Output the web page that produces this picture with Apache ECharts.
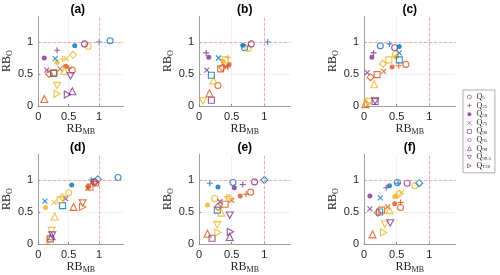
<!DOCTYPE html>
<html><head><meta charset="utf-8">
<script src="https://cdn.jsdelivr.net/npm/echarts@6/dist/echarts.min.js"></script>
<style>html,body{margin:0;padding:0;background:#fff}#c{width:500px;height:275px}</style>
</head><body><div id="c"></div>
<script>
// quantile names (legend) and subscripts
const QNAMES = ['Q5','Q25','Q50','Q75','Q90','Q95','Q99','Q99.5','QT20'];
const QSUBS  = ['5','25','50','75','90','95','99','99.5','T20'];
const PANELS = ['(a)','(b)','(c)','(d)','(e)','(f)'];
const X_TICKS = [0, 0.5, 1];
const Y_TICKS = [0, 0.5, 1];

// [RB_MB, RB_O] per quantile (order of QNAMES); null = not visible
const a_blue   = [[1.18,1.02],[1.0,1.0],[0.6,0.94],[0.28,0.74],[0.25,0.51],null,null,null,null];
const a_red    = [[0.56,0.56],[0.5,0.59],[0.45,0.62],[0.36,0.58],[0.26,0.52],[0.18,0.50],[0.1,0.11],null,null];
const a_yellow = [[0.82,0.93],[0.40,0.73],[0.31,0.68],[0.46,0.74],null,[0.57,0.80],[0.43,0.55],[0.31,0.32],[0.31,0.19]];
const a_purple = [[0.76,0.97],[0.31,0.87],[0.1,0.75],[0.14,0.56],null,null,[0.56,0.23],[0.53,0.47],[0.48,0.18]];

const b_blue   = [[0.70,0.91],[1.05,1.0],[0.67,0.95],[0.30,0.75],[0.19,0.48],null,null,null,null];
const b_red    = [[0.29,0.32],[0.44,0.61],[0.46,0.65],[0.41,0.62],[0.33,0.58],[0.36,0.60],[0.16,0.20],null,null];
const b_yellow = [[0.75,0.90],[0.44,0.76],[0.37,0.70],null,[0.40,0.72],null,[0.22,0.40],[0.06,0.08],null];
const b_purple = [[0.80,0.97],[0.11,0.83],[0.15,0.76],[0.12,0.56],[0.19,0.09],null,null,null,null];

const c_blue   = [[0.25,0.94],[0.39,0.97],[0.54,0.93],[0.54,0.83],[0.54,0.72],null,null,null,null];
const c_red    = [[0.64,0.65],[0.53,0.63],[0.43,0.61],[0.30,0.54],[0.20,0.49],[0.10,0.45],[0.02,0.03],null,null];
const c_yellow = [[0.48,0.80],null,[0.49,0.77],null,[0.38,0.72],[0.29,0.66],[0.155,0.34],[0.08,0.07],[0.05,0.04]];
const c_purple = [[0.47,0.91],[0.145,0.83],[0.12,0.76],[0.05,0.52],[0.17,0.07],null,null,[0.17,0.08],null];

const d_blue   = [[1.31,1.04],[0.87,1.0],[0.55,0.92],[0.11,0.67],[0.40,0.60],[0.98,1.01],null,null,null];
const d_red    = [[0.95,0.95],[0.90,0.95],[0.83,0.90],[0.81,0.87],[0.85,0.89],[0.93,0.96],[0.58,0.58],[0.73,0.64],[0.73,0.58]];
const d_yellow = [[0.50,0.80],null,[0.12,0.57],[0.26,0.65],[0.36,0.69],[0.40,0.73],[0.27,0.43],[0.22,0.21],[0.19,0.05]];
const d_purple = [[0.92,0.97],[0.90,0.98],null,[0.45,0.71],[0.20,0.08],null,[0.22,0.12],[0.23,0.14],null];

const e_blue   = [[0.52,0.96],[0.165,0.95],[0.29,0.89],null,[0.28,0.53],[1.0,1.0],null,null,null];
const e_red    = [[0.79,0.81],[0.72,0.78],[0.63,0.75],[0.50,0.68],[0.40,0.62],[0.29,0.58],[0.13,0.16],null,null];
const e_yellow = [[0.24,0.71],[0.43,0.74],[0.13,0.61],null,null,[0.46,0.72],[0.34,0.49],[0.28,0.30],[0.29,0.18]];
const e_purple = [[0.85,0.97],[0.67,0.93],[0.54,0.88],[0.32,0.66],[0.20,0.09],null,[0.47,0.11],[0.47,0.45],[0.48,0.19]];

const f_blue   = [[0.51,0.96],[0.52,0.95],[0.39,0.91],[0.25,0.72],[0.24,0.50],[0.845,0.95],null,null,null];
const f_red    = [[0.56,0.57],[0.56,0.65],[0.47,0.63],[0.36,0.58],[0.27,0.53],[0.21,0.49],[0.13,0.15],null,null];
const f_yellow = [[0.78,0.91],[0.51,0.75],[0.47,0.74],[0.575,0.81],null,[0.53,0.78],[0.39,0.53],[0.32,0.31],[0.30,0.18]];
const f_purple = [[0.66,0.95],[0.34,0.88],[0.09,0.75],[0.09,0.55],null,null,null,[0.40,0.33],null];

const PANEL_DATA = [
  [a_blue,a_red,a_yellow,a_purple],
  [b_blue,b_red,b_yellow,b_purple],
  [c_blue,c_red,c_yellow,c_purple],
  [d_blue,d_red,d_yellow,d_purple],
  [e_blue,e_red,e_yellow,e_purple],
  [f_blue,f_red,f_yellow,f_purple]
];

const COLORS = ['#0072BD','#D95319','#EDB120','#7E2F8E'];
// marker style per quantile
const MARKERS = [
  {symbol:'circle', size:6, filled:false},
  {symbol:'path://M5,0L5,10M0,5L10,5', size:6, filled:false},
  {symbol:'circle', size:5, filled:true},
  {symbol:'path://M0,0L10,10M10,0L0,10', size:5, filled:false},
  {symbol:'rect', size:6, filled:false},
  {symbol:'diamond', size:7, filled:false},
  {symbol:'triangle', size:7, filled:false},
  {symbol:'path://M0,0L10,0L5,9Z', size:7, filled:false},
  {symbol:'path://M0,0L9,5L0,10Z', size:7, filled:false}
];

const GL = [32, 199, 364];
const GT = [16.4, 154.4];
const GW = 91.5, GH = 89.6;

const grids=[], xAxes=[], yAxes=[], series=[], graphics=[];
const axisFont = 'Liberation Sans';
const nameRich = {
  m:{fontFamily:'Liberation Serif', fontSize:12, color:'#262626'},
  s:{fontFamily:'Liberation Serif', fontSize:8, color:'#262626', verticalAlign:'bottom', padding:[6,0,0,0]}
};
for (let p=0; p<6; p++){
  const col = p%3, row = Math.floor(p/3);
  grids.push({left:GL[col], top:GT[row], width:GW, height:GH});
  const common = {
    gridIndex:p, min:0, max:1.4, interval:0.5,
    axisLine:{show:true, lineStyle:{color:'#8a8a8a', width:0.8}},
    axisTick:{show:true, inside:true, length:2, lineStyle:{color:'#8a8a8a'}},
    axisLabel:{color:'#262626', fontSize:11, fontFamily:axisFont, showMaxLabel:false,
      formatter:v=> (Math.abs(v-1.4)<1e-6 ? '' : String(v))},
    splitLine:{show:true, showMaxLine:false, lineStyle:{color:'#ececec', width:0.8}},
    nameTextStyle:{rich:nameRich}
  };
  xAxes.push(Object.assign({}, common, {type:'value', name:'{m|RB}{s|MB}', nameLocation:'middle', nameGap:16,
    axisLabel:Object.assign({}, common.axisLabel, {margin:5})}));
  yAxes.push(Object.assign({}, common, {type:'value', name:'{m|RB}{s|O}', nameLocation:'middle', nameGap:17,
    axisLabel:Object.assign({}, common.axisLabel, {margin:5})}));
  graphics.push({type:'text', x:GL[col]+GW/2, y:(row===0?4:142), style:{text:PANELS[p], textAlign:'center',
    font:'bold 12px "Liberation Sans"', fill:'#000'}});

  // reference lines
  series.push({type:'scatter', xAxisIndex:p, yAxisIndex:p, data:[], silent:true, z:1,
    markLine:{silent:true, symbol:'none', label:{show:false}, animation:false,
      lineStyle:{color:'#ff9090', type:[3,2], width:1, opacity:0.75},
      data:[{xAxis:1},{yAxis:1}]}});

  const pd = PANEL_DATA[p];
  for (let q=0; q<QNAMES.length; q++){
    const mk = MARKERS[q];
    const data = [];
    for (let c=0; c<4; c++){
      const v = pd[c][q];
      if (!v) continue;
      data.push({value:v, itemStyle: mk.filled ? {color:COLORS[c], borderWidth:0}
        : {color:'rgba(255,255,255,0)', borderColor:COLORS[c], borderWidth:1.1}});
    }
    series.push({type:'scatter', name:QNAMES[q], xAxisIndex:p, yAxisIndex:p, z:3,
      symbol:mk.symbol, symbolSize:mk.size, symbolKeepAspect:true,
      itemStyle: mk.filled ? {color:COLORS[3]} : {color:'rgba(255,255,255,0)', borderColor:COLORS[3], borderWidth:1.1},
      data:data, animation:false});
  }
}

const chart = echarts.init(document.getElementById('c'), null, {renderer:'canvas'});
chart.setOption({
  animation:false,
  grid:grids, xAxis:xAxes, yAxis:yAxes, series:series, graphic:graphics,
  legend:{
    data:QNAMES, orient:'vertical', left:463, top:90, itemWidth:4, itemHeight:4, itemGap:0.6,
    padding:[3,4,3,4], borderColor:'#9a9a9a', borderWidth:0.8, selectedMode:false,
    itemStyle:{borderWidth:0.8},
    formatter:n=>'{q|Q}{s|'+QSUBS[QNAMES.indexOf(n)]+'}',
    textStyle:{rich:{
      q:{fontFamily:'Liberation Serif', fontSize:8, color:'#262626', lineHeight:7},
      s:{fontFamily:'Liberation Serif', fontSize:5, color:'#262626', verticalAlign:'bottom', lineHeight:7}
    }}
  }
});
</script></body></html>
